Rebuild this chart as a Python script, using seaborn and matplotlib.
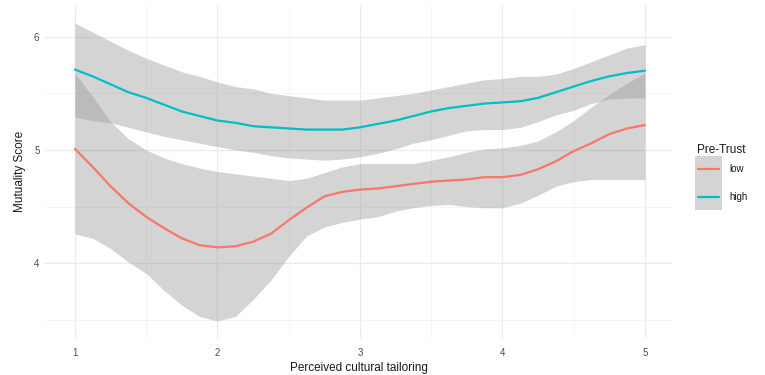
import numpy as np
import pandas as pd
import matplotlib
matplotlib.use("Agg")
import matplotlib.pyplot as plt
import seaborn as sns
from matplotlib.patches import Rectangle
from matplotlib.lines import Line2D

# Smoothed mutuality score (loess fit with 95% band) by perceived cultural tailoring
tailoring = [1.0, 1.125, 1.25, 1.375, 1.5, 1.625, 1.75, 1.875, 2.0,
             2.125, 2.25, 2.375, 2.5, 2.625, 2.75, 2.875, 3.0,
             3.125, 3.25, 3.375, 3.5, 3.625, 3.75, 3.875, 4.0,
             4.125, 4.25, 4.375, 4.5, 4.625, 4.75, 4.875, 5.0]

low_fit = [5.01, 4.85, 4.68, 4.53, 4.41, 4.31, 4.22, 4.16, 4.14,
           4.15, 4.19, 4.26, 4.38, 4.49, 4.59, 4.63, 4.65,
           4.66, 4.68, 4.70, 4.72, 4.73, 4.74, 4.76, 4.76,
           4.78, 4.83, 4.90, 4.99, 5.06, 5.14, 5.19, 5.22]
low_lower = [4.26, 4.22, 4.13, 4.01, 3.91, 3.76, 3.63, 3.53, 3.49,
             3.53, 3.68, 3.85, 4.06, 4.24, 4.32, 4.36, 4.39,
             4.41, 4.46, 4.49, 4.51, 4.52, 4.50, 4.49, 4.49,
             4.53, 4.60, 4.68, 4.72, 4.74, 4.74, 4.74, 4.74]
low_upper = [5.68, 5.47, 5.25, 5.10, 5.00, 4.93, 4.88, 4.84, 4.81,
             4.79, 4.77, 4.75, 4.73, 4.75, 4.80, 4.85, 4.88,
             4.88, 4.88, 4.88, 4.91, 4.94, 4.98, 5.01, 5.02,
             5.04, 5.08, 5.16, 5.26, 5.38, 5.49, 5.59, 5.68]

high_fit = [5.71, 5.65, 5.58, 5.51, 5.46, 5.40, 5.34, 5.30, 5.26,
            5.24, 5.21, 5.20, 5.19, 5.18, 5.18, 5.18, 5.20,
            5.23, 5.26, 5.30, 5.34, 5.37, 5.39, 5.41, 5.42,
            5.43, 5.46, 5.51, 5.56, 5.61, 5.65, 5.68, 5.70]
high_lower = [5.29, 5.26, 5.24, 5.20, 5.16, 5.12, 5.09, 5.06, 5.03,
              5.00, 4.98, 4.95, 4.93, 4.92, 4.91, 4.92, 4.94,
              4.97, 5.01, 5.06, 5.09, 5.13, 5.17, 5.18, 5.18,
              5.20, 5.25, 5.31, 5.35, 5.41, 5.45, 5.46, 5.46]
high_upper = [6.12, 6.04, 5.96, 5.88, 5.81, 5.75, 5.69, 5.65, 5.60,
              5.56, 5.54, 5.50, 5.48, 5.46, 5.44, 5.44, 5.44,
              5.46, 5.48, 5.50, 5.53, 5.56, 5.59, 5.62, 5.63,
              5.65, 5.65, 5.67, 5.72, 5.78, 5.84, 5.90, 5.93]

groups = ["low", "high"]
colors = {"low": "#F8766D", "high": "#00BFC4"}
x_ticks = [1, 2, 3, 4, 5]
y_ticks = [4, 5, 6]

frames = []
for g, fit, lo, hi in [("low", low_fit, low_lower, low_upper),
                       ("high", high_fit, high_lower, high_upper)]:
    frames.append(pd.DataFrame({"Perceived cultural tailoring": tailoring,
                                "Mutuality Score": fit,
                                "lower": lo, "upper": hi,
                                "Pre-Trust": g}))
df = pd.concat(frames, ignore_index=True)

sns.set_theme(style="white")
plt.rcParams["font.family"] = ["Liberation Sans", "DejaVu Sans"]

W, H = 765, 375
fig = plt.figure(figsize=(W / 100, H / 100), dpi=100)
ax = fig.add_axes([45 / W, 1 - 338 / H, (672 - 45) / W, (338 - 5) / H])

# Grid
ax.set_xticks(x_ticks)
ax.set_xticks([1.5, 2.5, 3.5, 4.5], minor=True)
ax.set_yticks(y_ticks)
ax.set_yticks([3.5, 4.5, 5.5], minor=True)
ax.grid(True, which="major", color="#EBEBEB", lw=0.9)
ax.grid(True, which="minor", color="#F2F2F2", lw=0.6)
ax.set_axisbelow(True)

# Each group: band first, then its line
for g in groups:
    sub = df[df["Pre-Trust"] == g]
    ax.fill_between(sub["Perceived cultural tailoring"], sub["lower"], sub["upper"],
                    color="#999999", alpha=0.42, lw=0, zorder=2)
    sns.lineplot(data=sub, x="Perceived cultural tailoring", y="Mutuality Score",
                 color=colors[g], lw=1.6, ax=ax, legend=False, zorder=3)

ax.set_xlim(0.79, 5.19)
ax.set_ylim(3.34, 6.28)
for s in ax.spines.values():
    s.set_visible(False)
ax.tick_params(which="both", length=0)
ax.tick_params(axis="x", pad=7, labelsize=7, labelcolor="#4D4D4D")
ax.tick_params(axis="y", pad=4, labelsize=7, labelcolor="#4D4D4D")
ax.set_xlabel("Perceived cultural tailoring", fontsize=8.5, color="#1A1A1A", labelpad=3)
ax.set_ylabel("Mutuality Score", fontsize=8.5, color="#1A1A1A", labelpad=6)

# Legend
fig.text(697 / W, 1 - 150 / H, "Pre-Trust", fontsize=8.5, color="#1A1A1A",
         ha="left", va="center")
key_top, key_h = 156, 27
for i, g in enumerate(groups):
    y0 = key_top + i * key_h
    fig.patches.append(Rectangle((695 / W, 1 - (y0 + key_h) / H), 27 / W, key_h / H,
                                 transform=fig.transFigure, facecolor="#999999",
                                 alpha=0.42, lw=0))
    yc = 1 - (y0 + key_h / 2) / H
    fig.lines.append(Line2D([698 / W, 719 / W], [yc, yc], transform=fig.transFigure,
                            color=colors[g], lw=1.6))
    fig.text(729 / W, yc, g, fontsize=7, color="#1A1A1A", ha="left", va="center")

fig.savefig("out.png", dpi=100)
